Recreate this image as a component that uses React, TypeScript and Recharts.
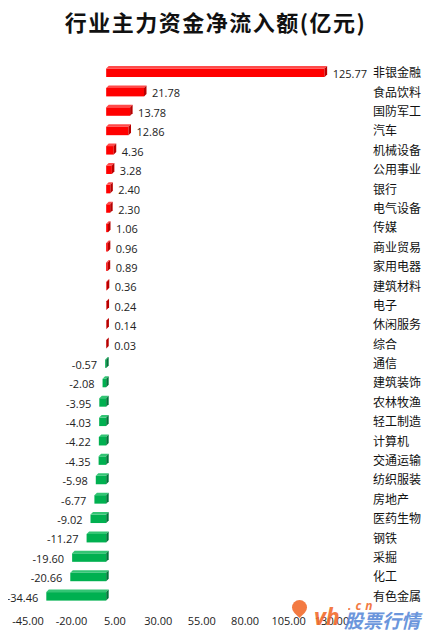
import React from "react";
import { BarChart, Bar, XAxis, YAxis, LabelList } from "recharts";

const categories = [
  "非银金融", "食品饮料", "国防军工", "汽车", "机械设备", "公用事业", "银行",
  "电气设备", "传媒", "商业贸易", "家用电器", "建筑材料", "电子", "休闲服务",
  "综合", "通信", "建筑装饰", "农林牧渔", "轻工制造", "计算机", "交通运输",
  "纺织服装", "房地产", "医药生物", "钢铁", "采掘", "化工", "有色金属",
];
const values = [
  125.77, 21.78, 13.78, 12.86, 4.36, 3.28, 2.4, 2.3, 1.06, 0.96, 0.89, 0.36,
  0.24, 0.14, 0.03, -0.57, -2.08, -3.95, -4.03, -4.22, -4.35, -5.98, -6.77,
  -9.02, -11.27, -19.6, -20.66, -34.46,
];
const xTicks = [-45, -20, 5, 30, 55, 80, 105, 130];
const title = "行业主力资金净流入额(亿元)";

const data = categories.map((name, i) => ({ name, value: values[i] }));

const CJK = '"Noto Sans CJK SC", "Noto Sans", sans-serif';
const LAT = '"Open Sans", "Noto Sans", "DejaVu Sans", sans-serif';

const Bar3D = (props: any) => {
  const { x, y, width, height, value } = props;
  const x0 = Math.min(x, x + width);
  const w = Math.abs(width);
  const d = 2.5;
  const pos = value >= 0;
  const front = pos ? "#FF0000" : "#00B050";
  const top = pos ? "#FF4A4A" : "#33C574";
  const side = pos ? "#B80000" : "#00763A";
  const yt = y + d;
  const h = height - d;
  return (
    <g>
      <rect x={x0} y={yt} width={w} height={h} fill={front} />
      <polygon
        points={`${x0},${yt} ${x0 + d},${y} ${x0 + w + d},${y} ${x0 + w},${yt}`}
        fill={top}
      />
      <polygon
        points={`${x0 + w},${yt} ${x0 + w + d},${y} ${x0 + w + d},${y + h} ${x0 + w},${yt + h}`}
        fill={side}
      />
    </g>
  );
};

const ValueLabel = (props: any) => {
  const { x, y, width, height, value } = props;
  const x0 = Math.min(x, x + width);
  const x1 = Math.max(x, x + width);
  const pos = value >= 0;
  return (
    <text
      x={pos ? x1 + 8 : x0 - 8}
      y={y + height / 2 + 2}
      textAnchor={pos ? "start" : "end"}
      dominantBaseline="central"
      fontFamily={LAT}
      fontSize={11}
      fill="#222"
    >
      {Number(value).toFixed(2)}
    </text>
  );
};

const CatTick = (props: any) => {
  const { y, payload } = props;
  return (
    <text
      x={365}
      y={y}
      textAnchor="start"
      dominantBaseline="central"
      fontFamily={CJK}
      fontSize={12}
      fill="#111"
    >
      {payload.value}
    </text>
  );
};

export default function App() {
  return (
    <div style={{ position: "relative", width: 415, height: 625 }}>
      <div
        style={{
          position: "absolute",
          left: 0,
          top: 0,
          width: 415,
          textAlign: "center",
          fontFamily: CJK,
          fontWeight: 700,
          fontSize: 22,
          letterSpacing: 1.5,
          color: "#111",
          lineHeight: "26px",
        }}
      >
        {title}
      </div>
      <BarChart
        width={415}
        height={625}
        data={data}
        layout="vertical"
        margin={{ top: 54, right: 0, left: 20, bottom: 0 }}
        barCategoryGap={0}
      >
        <XAxis
          type="number"
          domain={[-45, 130]}
          ticks={xTicks}
          interval={0}
          axisLine={false}
          tickLine={false}
          tickMargin={6}
          height={28}
          tickFormatter={(v: number) => v.toFixed(2)}
          tick={{ fontSize: 11, fill: "#222", fontFamily: LAT }}
        />
        <YAxis
          type="category"
          dataKey="name"
          orientation="right"
          width={91}
          axisLine={false}
          tickLine={false}
          interval={0}
          tick={<CatTick />}
        />
        <Bar dataKey="value" barSize={11} isAnimationActive={false} shape={<Bar3D />}>
          <LabelList dataKey="value" content={<ValueLabel />} />
        </Bar>
      </BarChart>
      <div
        style={{
          position: "absolute",
          left: 282,
          top: 590,
          width: 140,
          height: 36,
          fontStyle: "italic",
          fontWeight: 700,
          pointerEvents: "none",
        }}
      >
        <span
          style={{
            position: "absolute",
            left: 2,
            top: 2,
            width: 15,
            height: 15,
            borderRadius: "50% 50% 50% 0",
            transform: "rotate(-45deg)",
            background: "#F26C2E",
            opacity: 0.9,
          }}
        />
        <span
          style={{
            position: "absolute",
            left: 24,
            top: 4,
            fontFamily: LAT,
            fontSize: 23,
            lineHeight: "28px",
            color: "#F26C2E",
            opacity: 0.9,
          }}
        >
          vh
        </span>
        <span
          style={{
            position: "absolute",
            left: 58,
            top: 2,
            fontFamily: LAT,
            fontSize: 12,
            lineHeight: "12px",
            letterSpacing: 4,
            color: "#F26C2E",
            opacity: 0.9,
          }}
        >
          .cn
        </span>
        <span
          style={{
            position: "absolute",
            left: 54,
            top: 10,
            fontFamily: CJK,
            fontSize: 19,
            lineHeight: "24px",
            color: "#5B8BD9",
            opacity: 0.9,
          }}
        >
          股票行情
        </span>
      </div>
    </div>
  );
}
